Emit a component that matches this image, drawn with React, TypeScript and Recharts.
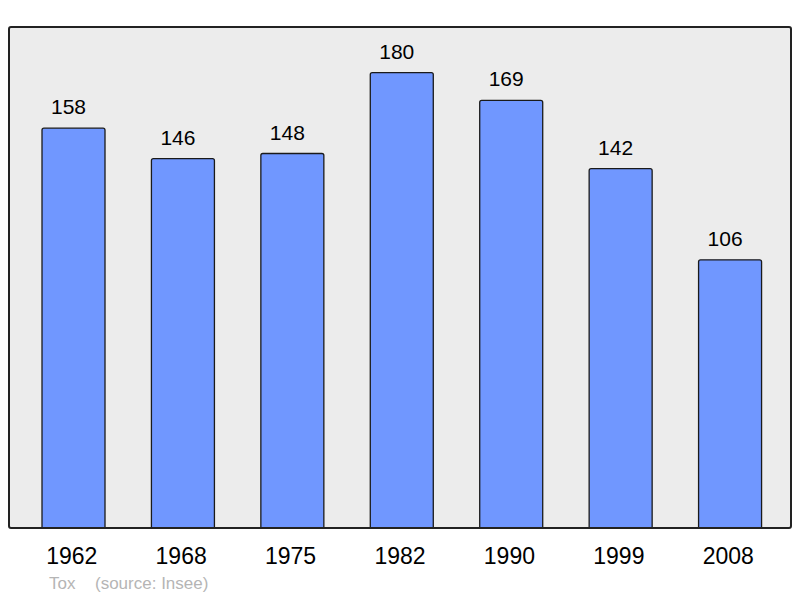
import React from "react";
import { BarChart, Bar, XAxis, YAxis, CartesianGrid, LabelList } from "recharts";

const years = ["1962", "1968", "1975", "1982", "1990", "1999", "2008"];
const population = [158, 146, 148, 180, 169, 142, 106];
const yMax = 198;
const footerName = "Tox";
const footerSource = "(source: Insee)";

const data = years.map((y, i) => ({ year: y, pop: population[i] }));

const FONT = "'Liberation Sans', Arial, sans-serif";

const Tick = (props: any) => {
  const { x, y, payload } = props;
  return (
    <text x={x - 2} y={y + 36} textAnchor="middle" fontFamily={FONT} fontSize={23} fill="#000">
      {payload.value}
    </text>
  );
};

const ValueLabel = (props: any) => {
  const { x, y, width, value } = props;
  return (
    <text x={x + width / 2 - 5} y={y - 14} textAnchor="middle" fontFamily={FONT} fontSize={21} fill="#000">
      {value}
    </text>
  );
};

export default function App() {
  return (
    <div style={{ position: "relative", width: 792, height: 590 }}>
      <BarChart
        width={792}
        height={590}
        data={data}
        margin={{ top: 19, right: 9, left: 1, bottom: 30 }}
        barCategoryGap={0}
      >
        <CartesianGrid fill="#ececec" horizontal={false} vertical={false} />
        <XAxis
          dataKey="year"
          height={40}
          padding={{ left: 10, right: 6 }}
          axisLine={false}
          tickLine={false}
          tickSize={0}
          tickMargin={0}
          tick={<Tick />}
          interval={0}
        />
        <YAxis domain={[0, yMax]} width={0} axisLine={false} tickLine={false} tick={false} />
        <Bar
          dataKey="pop"
          barSize={63}
          fill="#7097ff"
          stroke="#1a1a1a"
          strokeWidth={1.3}
          radius={[2, 2, 0, 0]}
          isAnimationActive={false}
        >
          <LabelList dataKey="pop" content={<ValueLabel />} />
        </Bar>
      </BarChart>
      <div
        style={{
          position: "absolute",
          left: 0,
          top: 18,
          width: 784,
          height: 503,
          boxSizing: "border-box",
          border: "2px solid #222",
          borderRadius: 3,
          pointerEvents: "none",
        }}
      />
      <div
        style={{
          position: "absolute",
          left: 41,
          top: 566,
          fontFamily: FONT,
          fontSize: 17,
          color: "#b5b5b5",
          whiteSpace: "pre",
          lineHeight: "20px",
        }}
      >
        <span>{footerName}</span>
        <span style={{ position: "absolute", left: 46 }}>{footerSource}</span>
      </div>
    </div>
  );
}
